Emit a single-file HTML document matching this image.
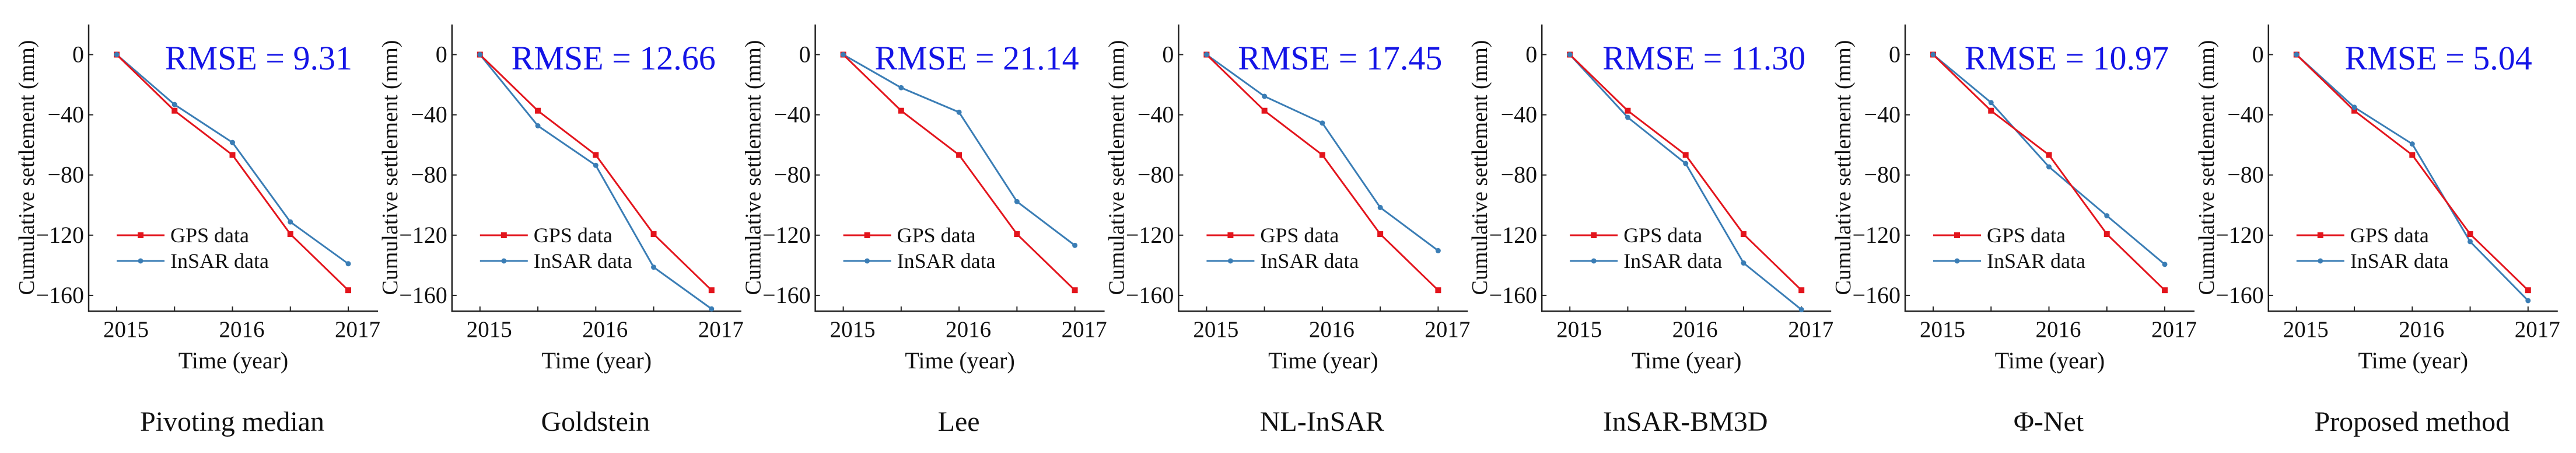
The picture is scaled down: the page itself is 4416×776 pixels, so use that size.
<!DOCTYPE html>
<html><head><meta charset="utf-8"><style>
html,body{margin:0;padding:0;background:#fff;}
svg{display:block;}
svg text{font-family:"Liberation Serif",serif;}
</style></head><body>
<svg id="chart" width="4416" height="776" viewBox="0 0 4416 776" xmlns="http://www.w3.org/2000/svg"></svg>
<script>
const methods = ["Pivoting median","Goldstein","Lee","NL-InSAR","InSAR-BM3D","\u03A6-Net","Proposed method"];
const rmseLabels = ["9.31","12.66","21.14","17.45","11.30","10.97","5.04"];
const years = [2015, 2015.5, 2016, 2016.5, 2017];
const gps = [0, -37.3, -66.7, -119.3, -156.6];
const insarPivoting = [0, -33.2, -58.4, -111.2, -139];
const insarGoldstein = [0, -47.3, -73.6, -141.3, -169];
const insarLee = [0, -22, -38.3, -97.7, -126.8];
const insarNL = [0, -27.7, -45.5, -101.6, -130.3];
const insarBM3D = [0, -41.7, -72.4, -138.5, -169.5];
const insarPhiNet = [0, -31.9, -74.6, -107.1, -139.4];
const insarProposed = [0, -35, -59.4, -124.3, -163.5];
const insarAll = [insarPivoting, insarGoldstein, insarLee, insarNL, insarBM3D, insarPhiNet, insarProposed];
const yTicks = [0, -40, -80, -120, -160];
const xTickLabels = [2015, 2016, 2017];

const NS = "http://www.w3.org/2000/svg";
const svg = document.getElementById("chart");
function mk(tag, attrs, parent, text){
  const e = document.createElementNS(NS, tag);
  for (const k in attrs) e.setAttribute(k, attrs[k]);
  if (tag === "text") e.setAttribute("font-family", "'Liberation Serif', serif");
  if (text !== undefined) e.textContent = text;
  parent.appendChild(e);
  return e;
}
const RED = "#e3141c", BLUE = "#3a7db5";
const spacing = 622.8, axisX0 = 152, plotTop = 42, plotBottom = 533;
const yMax = 20, yMin = -170.5;

methods.forEach((m, i) => {
  const ox = axisX0 + i * spacing;
  const g = mk("g", {}, svg);
  
  
  const xs = v => ox + 48 + (v - 2015) / 2 * 397;
  const ys = v => plotTop + (yMax - v) / (yMax - yMin) * (plotBottom - plotTop);

  const axes = mk("path", {d:`M${ox} ${plotTop} L${ox} ${plotBottom} L${xs(2017)+51} ${plotBottom}`, fill:"none", stroke:"#222", "stroke-width":2.5}, g);
  
  

  yTicks.forEach(t => {
    const tk = mk("line", {x1:ox, x2:ox+8, y1:ys(t), y2:ys(t), stroke:"#222", "stroke-width":2}, g);
    
    
    const lb = mk("text", {x:ox-8, y:ys(t)+13, "text-anchor":"end", "font-size":40, fill:"#111"}, g, t === 0 ? "0" : "\u2212" + Math.abs(t));
    
    
  });
  years.forEach(yv => {
    const tk = mk("line", {x1:xs(yv), x2:xs(yv), y1:plotBottom, y2:plotBottom-8, stroke:"#222", "stroke-width":2}, g);
    
    
  });
  xTickLabels.forEach(yv => {
    const lb = mk("text", {x:xs(yv)+16, y:577, "text-anchor":"middle", "font-size":39, fill:"#111"}, g, String(yv));
    
    
  });

  const yt = mk("text", {x:0, y:0, transform:`translate(${ox-94},287) rotate(-90)`, "text-anchor":"middle", "font-size":38, fill:"#111"}, g, "Cumulative settlement (mm)");
  
  
  const xt = mk("text", {x:ox+248, y:631, "text-anchor":"middle", "font-size":40, fill:"#111"}, g, "Time (year)");
  
  
  const rm = mk("text", {x:ox+452, y:119, "text-anchor":"end", "font-size":58, fill:"#1414e6"}, g, "RMSE = " + rmseLabels[i]);
  
  
  const tt = mk("text", {x:ox+246, y:738, "text-anchor":"middle", "font-size":48, fill:"#111"}, g, m);
  
  

  const ins = insarAll[i];
  const lineB = mk("polyline", {points: ins.map((v,k)=>xs(years[k])+","+ys(v)).join(" "), fill:"none", stroke:BLUE, "stroke-width":3}, g);
  
  
  const lineR = mk("polyline", {points: gps.map((v,k)=>xs(years[k])+","+ys(v)).join(" "), fill:"none", stroke:RED, "stroke-width":3}, g);
  
  
  gps.forEach((v,k) => {
    const p = mk("rect", {x:xs(years[k])-5, y:ys(v)-5, width:10, height:10, fill:RED}, g);
    
    
  });
  ins.forEach((v,k) => {
    const p = mk("circle", {cx:xs(years[k]), cy:ys(v), r:4.5, fill:BLUE}, g);
    
    
  });

  const lg = mk("g", {}, g);
  
  
  mk("line", {x1:ox+48, x2:ox+130, y1:403, y2:403, stroke:RED, "stroke-width":3}, lg);
  mk("rect", {x:ox+84, y:398, width:10, height:10, fill:RED}, lg);
  const l1 = mk("text", {x:ox+140, y:415, "font-size":36, fill:"#111"}, lg, "GPS data");
  
  
  mk("line", {x1:ox+48, x2:ox+130, y1:447, y2:447, stroke:BLUE, "stroke-width":3}, lg);
  mk("circle", {cx:ox+89, cy:447, r:4.5, fill:BLUE}, lg);
  const l2 = mk("text", {x:ox+140, y:459, "font-size":36, fill:"#111"}, lg, "InSAR data");
  
  
});
</script>
</body></html>
